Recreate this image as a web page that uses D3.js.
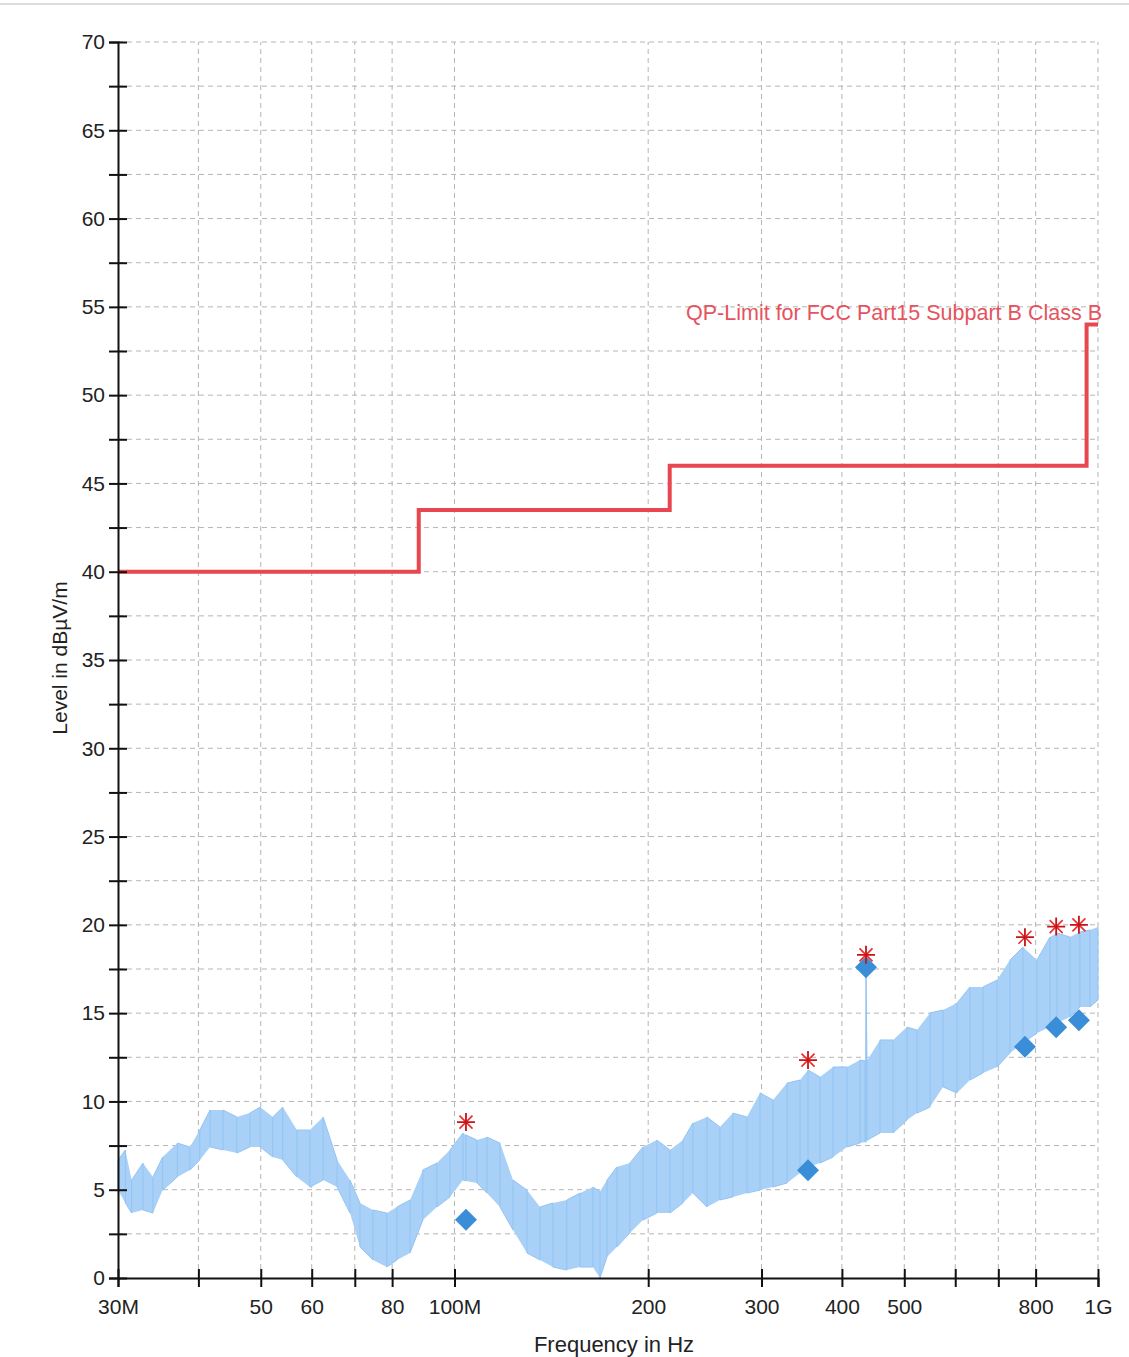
<!DOCTYPE html>
<html>
<head>
<meta charset="utf-8">
<script src="https://cdn.jsdelivr.net/npm/d3@7"></script>
<style>
  body { margin: 0; background: #fff; }
  text { font-family: "Liberation Sans", Arial, sans-serif; fill: #222; }
</style>
</head>
<body>
<svg id="chart" width="1129" height="1357"></svg>
<script>
// x axis (MHz, log)
var xTicks = [30, 40, 50, 60, 70, 80, 100, 200, 300, 400, 500, 600, 700, 800, 1000];
var xTickLabels = ['30M', '', '50', '60', '', '80', '100M', '200', '300', '400', '500', '', '', '800', '1G'];
// y axis (dBµV/m)
var yTicks = [0, 2.5, 5, 7.5, 10, 12.5, 15, 17.5, 20, 22.5, 25, 27.5, 30, 32.5, 35, 37.5, 40, 42.5, 45, 47.5, 50, 52.5, 55, 57.5, 60, 62.5, 65, 67.5, 70];
var yTickLabels = ['0', '', '5', '', '10', '', '15', '', '20', '', '25', '', '30', '', '35', '', '40', '', '45', '', '50', '', '55', '', '60', '', '65', '', '70'];

// QP limit, FCC Part 15 B class B (step edges, MHz)
var limitEdges = [30, 88, 216, 960, 1000];
var limitLevels = [40, 43.5, 46, 54];

// measured trace, read as low / high envelope
var traceFreq = [30.0, 30.8, 31.5, 32.8, 34.0, 35.2, 37.1, 38.8, 40.2, 41.7, 43.7, 45.9, 48.1, 49.9, 52.2, 54.1, 56.9, 59.6, 62.5, 65.7,
  68.8, 71.3, 74.7, 78.5, 81.4, 85.3, 89.3, 93.9, 98.4, 103.1, 104.2, 108.4, 112.3, 117.7, 123.3, 129.6, 135.8, 142.2, 149.5, 156.7,
  164.1, 168.3, 172.6, 178.8, 187.3, 196.3, 206.3, 216.2, 226.5, 234.7, 246.8, 258.5, 270.8, 284.7, 298.4, 312.6, 328.7, 344.3, 354.3, 369.9,
  387.5, 407.4, 426.7, 434.5, 436.0, 437.5, 458.4, 480.2, 504.9, 523.3, 548.2, 574.3, 603.8, 632.5, 662.6, 696.7, 729.8, 764.5, 803.8, 842.1,
  863.4, 904.5, 937.4, 971.5, 1000];
var traceLo = [4.98, 4.25, 3.68, 3.85, 3.68, 4.98, 5.72, 6.12, 6.68, 7.42, 7.25, 7.08, 7.42, 7.42, 6.85, 6.68, 5.72, 5.15, 5.55, 5.15,
  3.68, 1.76, 1.02, 0.62, 1.02, 1.42, 3.28, 4.02, 4.59, 5.55, 5.5, 5.38, 4.81, 4.02, 2.72, 1.42, 1.02, 0.62, 0.45, 0.62,
  0.62, 0.0, 1.19, 1.76, 2.55, 3.28, 3.68, 3.68, 4.25, 4.81, 4.02, 4.42, 4.59, 4.81, 4.98, 5.15, 5.38, 5.95, 6.29, 6.51,
  6.85, 7.42, 7.64, 7.7, 7.7, 7.8, 8.21, 8.21, 8.95, 9.34, 9.68, 10.82, 10.48, 11.21, 11.61, 11.95, 12.74, 13.31, 13.87, 14.21,
  14.44, 14.78, 15.35, 15.35, 15.74];
var traceHi = [6.68, 7.25, 5.55, 6.51, 5.72, 6.85, 7.64, 7.42, 8.38, 9.51, 9.51, 9.12, 9.34, 9.68, 9.12, 9.68, 8.38, 8.38, 9.12, 6.68,
  5.55, 4.25, 3.85, 3.68, 4.02, 4.42, 6.12, 6.51, 7.25, 8.21, 8.1, 7.81, 7.98, 7.64, 5.55, 4.98, 4.02, 4.25, 4.42, 4.81,
  5.15, 4.9, 5.55, 6.29, 6.51, 7.42, 7.81, 7.25, 7.81, 8.78, 9.12, 8.55, 9.34, 9.12, 10.48, 10.08, 11.04, 11.21, 11.78, 11.38,
  11.95, 11.95, 12.34, 12.3, 17.5, 12.3, 13.48, 13.48, 14.21, 14.04, 15.01, 15.18, 15.57, 16.48, 16.48, 16.87, 18.01, 18.74, 18.01, 19.31,
  19.54, 19.31, 19.59, 19.71, 19.88];

// peak (asterisk) and QP (diamond) finals
var peakFreq = [104.2, 354.3, 436.0, 770.0, 861.0, 934.0];
var peakLevel = [8.83, 12.34, 18.3, 19.3, 19.9, 20.0];
var qpFreq = [104.2, 354.3, 436.0, 770.0, 861.0, 934.0];
var qpLevel = [3.3, 6.1, 17.6, 13.1, 14.2, 14.6];

var svg = d3.select('#chart');

var x = d3.scaleLog().domain([30, 1000]).range([118, 1098]);
var y = d3.scaleLinear().domain([0, 70]).range([1278, 42]);

// thin frame line at very top
svg.append('rect').attr('x', 0).attr('y', 3).attr('width', 1129).attr('height', 2).attr('fill', '#dcdcdc');

// grid
var grid = svg.append('g').attr('class', 'grid');
grid.selectAll('line.h')
  .data(yTicks.filter(function(d) { return d > 0; }))
  .enter()
  .append('line')
  .attr('x1', x(30)).attr('x2', x(1000))
  .attr('y1', function(d) { return y(d); })
  .attr('y2', function(d) { return y(d); })
  .attr('stroke', '#b5b5b5')
  .attr('stroke-dasharray', '5,4');
grid.selectAll('line.v')
  .data(xTicks.filter(function(d) { return d > 30; }))
  .enter()
  .append('line')
  .attr('y1', y(0)).attr('y2', y(70))
  .attr('x1', function(d) { return x(d); })
  .attr('x2', function(d) { return x(d); })
  .attr('stroke', '#b5b5b5')
  .attr('stroke-dasharray', '5,4');

// trace
var pts = traceFreq.map(function(f, i) { return { f: f, lo: traceLo[i], hi: traceHi[i] }; });
var band = d3.area()
  .x(function(d) { return x(d.f); })
  .y0(function(d) { return y(d.lo); })
  .y1(function(d) { return y(d.hi); });
svg.append('path')
  .datum(pts)
  .attr('d', band)
  .attr('fill', '#a9d1f7');

var zig = [];
pts.forEach(function(d, i) {
  zig.push([x(d.f), y(i % 2 ? d.hi : d.lo)]);
  zig.push([x(d.f), y(i % 2 ? d.lo : d.hi)]);
});
svg.append('path')
  .attr('d', d3.line()(zig))
  .attr('fill', 'none')
  .attr('stroke', '#92c4f3')
  .attr('stroke-width', 1);

// limit line
var limitPts = limitLevels.map(function(l, i) { return [limitEdges[i], l]; });
limitPts.push([limitEdges[limitEdges.length - 1], limitLevels[limitLevels.length - 1]]);
svg.append('path')
  .attr('d', d3.line()
    .x(function(d) { return x(d[0]); })
    .y(function(d) { return y(d[1]); })
    .curve(d3.curveStepAfter)(limitPts))
  .attr('fill', 'none')
  .attr('stroke', '#e8474f')
  .attr('stroke-width', 4);

svg.append('text')
  .attr('x', 686).attr('y', 320)
  .attr('textLength', 416)
  .attr('lengthAdjust', 'spacingAndGlyphs')
  .style('font-size', '22px')
  .style('fill', '#e5535d')
  .text('QP-Limit for FCC Part15 Subpart B Class B');

// axes
var yAxis = svg.append('g')
  .attr('transform', 'translate(' + x(30) + ',0)')
  .call(d3.axisLeft(y).tickValues(yTicks).tickSize(9).tickPadding(4)
    .tickFormat(function(d, i) { return yTickLabels[i]; }));
yAxis.selectAll('.tick line').attr('x1', 9).attr('stroke', '#111').attr('stroke-width', 2);
yAxis.select('.domain').attr('stroke', '#111').attr('stroke-width', 2);
yAxis.selectAll('text').style('font-size', '21px').style('font-family', '"Liberation Sans", Arial, sans-serif')
  .attr('fill', '#222');

var xAxis = svg.append('g')
  .attr('transform', 'translate(0,' + y(0) + ')')
  .call(d3.axisBottom(x).tickValues(xTicks).tickSize(9).tickPadding(12)
    .tickFormat(function(d, i) { return xTickLabels[i]; }));
xAxis.selectAll('.tick line').attr('y1', -9).attr('stroke', '#111').attr('stroke-width', 2);
xAxis.select('.domain').attr('stroke', '#111').attr('stroke-width', 2);
xAxis.selectAll('text').style('font-size', '21px').style('font-family', '"Liberation Sans", Arial, sans-serif')
  .attr('fill', '#222');

svg.append('text')
  .attr('transform', 'translate(67,658) rotate(-90)')
  .attr('text-anchor', 'middle')
  .style('font-size', '21px')
  .text('Level in dBµV/m');
svg.append('text')
  .attr('x', 614).attr('y', 1352)
  .attr('text-anchor', 'middle')
  .style('font-size', '22px')
  .text('Frequency in Hz');

// QP diamonds
svg.selectAll('path.qp')
  .data(qpFreq)
  .enter()
  .append('path')
  .attr('class', 'qp')
  .attr('transform', function(d, i) { return 'translate(' + x(d) + ',' + y(qpLevel[i]) + ')'; })
  .attr('d', 'M0,-11L11,0L0,11L-11,0Z')
  .attr('fill', '#3a8ed7');

// peak asterisks
var star = svg.selectAll('g.pk')
  .data(peakFreq)
  .enter()
  .append('g')
  .attr('class', 'pk')
  .attr('transform', function(d, i) { return 'translate(' + x(d) + ',' + y(peakLevel[i]) + ')'; });
star.append('path')
  .attr('d', 'M-6.5,-6.5L6.5,6.5M-6.5,6.5L6.5,-6.5')
  .attr('stroke', '#f02a2a').attr('stroke-width', 1.6);
star.append('path')
  .attr('d', 'M-9,0L9,0M0,-9L0,9')
  .attr('stroke', '#c4141a').attr('stroke-width', 1.8);
</script>
</body>
</html>
